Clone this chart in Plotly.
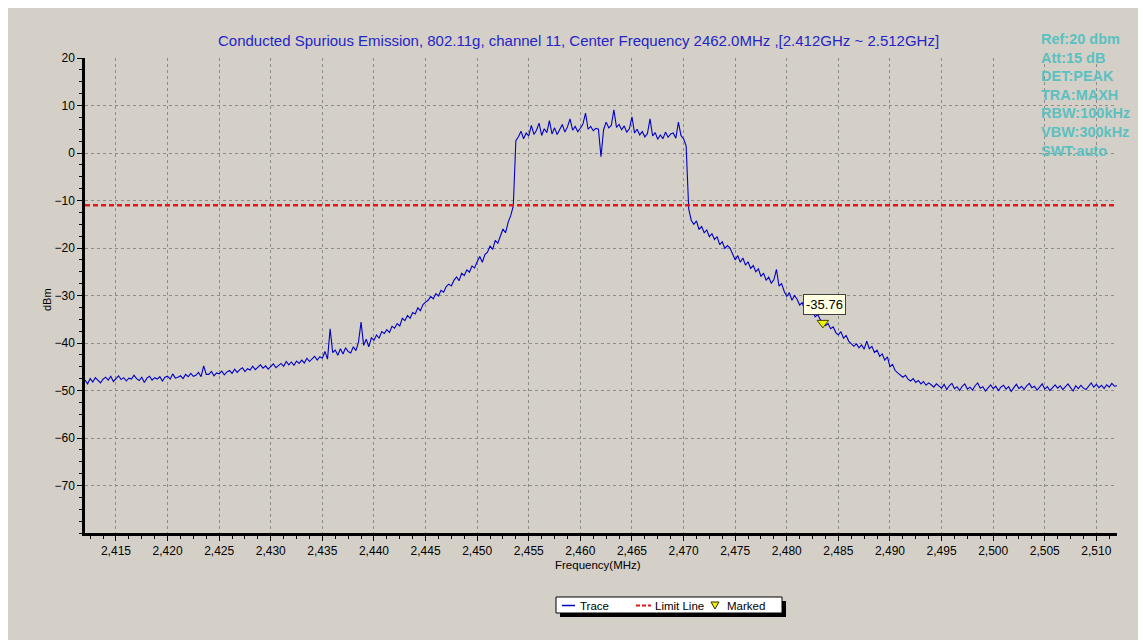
import plotly.graph_objects as go

# ---------------- data ----------------
f_start = 2412.0
f_step = 0.25
trace_dbm = [
    -47.8, -48.6, -47.5, -48.2,  # 2412
    -47.3, -47.9, -48.4, -47.6,  # 2413
    -47.2, -47.8, -47.0, -48.1,  # 2414
    -47.5, -46.9, -47.7, -47.3,  # 2415
    -48.0, -47.4, -47.6, -46.8,  # 2416
    -47.5, -47.9, -47.2, -48.3,  # 2417
    -47.4, -47.0, -47.8, -47.3,  # 2418
    -47.6, -47.1, -48.0, -47.2,  # 2419
    -47.0, -47.6, -46.5, -47.4,  # 2420
    -47.2, -46.9, -47.5, -46.6,  # 2421
    -47.1, -46.4, -47.0, -46.8,  # 2422
    -46.2, -47.1, -44.8, -46.6,  # 2423
    -46.6, -46.0, -46.9, -46.3,  # 2424
    -46.5, -45.9, -46.7, -46.1,  # 2425
    -45.8, -46.4, -45.5, -46.2,  # 2426
    -45.6, -45.2, -46.0, -45.4,  # 2427
    -45.7, -44.9, -45.6, -45.1,  # 2428
    -44.6, -45.3, -44.8, -45.5,  # 2429
    -45.0, -44.4, -45.2, -44.7,  # 2430
    -44.3, -44.9, -43.9, -44.6,  # 2431
    -44.0, -44.7, -43.8, -44.3,  # 2432
    -43.6, -44.2, -43.2, -43.9,  # 2433
    -43.4, -42.8, -43.6, -42.9,  # 2434
    -43.2, -41.8, -43.4, -37.0,  # 2435
    -42.0, -41.5, -42.6, -41.2,  # 2436
    -42.3, -41.0, -41.8, -42.1,  # 2437
    -40.8, -41.6, -39.8, -35.6,  # 2438
    -40.5, -39.2, -40.8, -38.9,  # 2439
    -39.4, -38.3, -39.0, -37.6,  # 2440
    -38.0, -37.2, -37.8, -36.5,  # 2441
    -36.9, -35.9, -36.4, -34.8,  # 2442
    -35.3, -34.2, -34.8, -33.6,  # 2443
    -33.9, -32.6, -33.2, -31.9,  # 2444
    -31.4, -31.0, -30.2, -30.7,  # 2445
    -29.6, -30.1, -28.9, -29.3,  # 2446
    -28.1, -27.6, -28.0, -26.8,  # 2447
    -26.1, -26.9, -25.3, -25.8,  # 2448
    -24.6, -25.1, -23.8, -24.2,  # 2449
    -22.9, -21.8, -23.0, -21.4,  # 2450
    -20.9, -19.6, -20.3, -18.4,  # 2451
    -19.0, -17.3, -16.0, -16.8,  # 2452
    -14.6, -13.2, -11.2, 2.6,    # 2453
    3.4, 4.6, 3.0, 4.2,          # 2454
    3.6, 5.8, 3.9, 4.8,          # 2455
    6.3, 3.7, 5.1, 4.3,          # 2456
    6.8, 4.0, 5.3, 3.9,          # 2457
    4.9, 6.0, 4.4, 5.5,          # 2458
    7.2, 4.8, 5.6, 4.5,          # 2459
    5.2, 6.1, 8.4, 5.0,          # 2460
    5.6, 4.7, 5.2, 5.0,          # 2461
    -0.8, 4.9, 6.5, 5.3,         # 2462
    5.8, 9.1, 5.4, 6.0,          # 2463
    4.9, 5.7, 4.4, 5.1,          # 2464
    7.6, 4.2, 5.0, 3.8,          # 2465
    4.5, 3.4, 4.1, 7.2,          # 2466
    3.6, 4.3, 2.9, 3.8,          # 2467
    3.0, 4.4, 3.3, 4.0,          # 2468
    4.2, 3.1, 6.5, 3.7,          # 2469
    3.0, 1.5, -11.8, -14.2,      # 2470
    -15.0, -14.3, -16.1, -15.5,  # 2471
    -16.8, -16.2, -17.6, -17.0,  # 2472
    -18.2, -17.6, -19.3, -18.7,  # 2473
    -20.1, -19.5, -20.0, -21.4,  # 2474
    -22.5, -21.6, -23.0, -22.1,  # 2475
    -23.6, -22.9, -24.3, -23.7,  # 2476
    -25.0, -24.4, -26.0, -25.3,  # 2477
    -26.8, -26.1, -27.4, -26.7,  # 2478
    -24.5, -28.0, -27.5, -29.1,  # 2479
    -30.2, -29.4, -31.0, -30.0,  # 2480
    -30.8, -32.0, -31.5, -33.2,  # 2481
    -32.6, -33.9, -33.2, -34.5,  # 2482
    -34.0, -35.1, -35.76, -36.3, # 2483
    -35.9, -37.0, -36.6, -37.8,  # 2484
    -38.3, -37.6, -39.0, -38.4,  # 2485
    -39.6, -40.1, -40.7, -40.2,  # 2486
    -41.0, -40.4, -41.3, -39.6,  # 2487
    -41.2, -40.7, -42.0, -41.5,  # 2488
    -42.8, -42.3, -43.6, -42.9,  # 2489
    -45.0, -44.5, -45.8, -46.3,  # 2490
    -46.7, -47.2, -46.8, -47.6,  # 2491
    -48.0, -47.5, -48.3, -47.9,  # 2492
    -48.6, -48.1, -48.9, -48.4,  # 2493
    -48.8, -49.3, -48.6, -49.1,  # 2494
    -49.5, -48.7, -49.8, -49.0,  # 2495
    -48.5, -49.6, -49.2, -50.0,  # 2496
    -49.1, -48.6, -49.7, -49.3,  # 2497
    -49.9, -49.0, -48.4, -49.5,  # 2498
    -49.2, -50.1, -49.4, -48.8,  # 2499
    -49.6, -49.1, -50.0, -49.3,  # 2500
    -48.9, -49.7, -49.2, -50.2,  # 2501
    -49.4, -48.7, -49.6, -49.1,  # 2502
    -49.8, -49.0, -48.5, -49.4,  # 2503
    -49.1, -49.9, -49.3, -48.6,  # 2504
    -49.7, -49.2, -50.0, -49.4,  # 2505
    -48.8, -49.5, -49.0, -49.8,  # 2506
    -49.3, -48.6, -49.4, -50.1,  # 2507
    -49.0, -49.6, -48.9, -49.5,  # 2508
    -49.8, -49.2, -48.4, -49.3,  # 2509
    -48.7, -49.4, -48.9, -49.6,  # 2510
    -48.8, -49.3, -48.5, -49.1,  # 2511
    -49.0,                       # 2512
]
freq_mhz = [f_start + f_step * i for i in range(len(trace_dbm))]

limit_dbm = -11.0
limit_x = [2412, 2512]
marker_freq = [2483.5]
marker_dbm = [-35.76]
marker_label = "-35.76"

x_tick_vals = [2415, 2420, 2425, 2430, 2435, 2440, 2445, 2450, 2455, 2460,
               2465, 2470, 2475, 2480, 2485, 2490, 2495, 2500, 2505, 2510]
x_tick_labels = ["2,415", "2,420", "2,425", "2,430", "2,435", "2,440", "2,445",
                 "2,450", "2,455", "2,460", "2,465", "2,470", "2,475", "2,480",
                 "2,485", "2,490", "2,495", "2,500", "2,505", "2,510"]
y_tick_vals = [20, 10, 0, -10, -20, -30, -40, -50, -60, -70]

title_text = ("Conducted Spurious Emission, 802.11g, channel 11, Center Frequency "
              "2462.0MHz ,[2.412GHz ~ 2.512GHz]")
info_lines = ["Ref:20 dbm", "Att:15 dB", "DET:PEAK", "TRA:MAXH",
              "RBW:100kHz", "VBW:300kHz", "SWT:auto"]
legend_names = ["Trace", "Limit Line", "Marked"]

# ---------------- layout geometry ----------------
OFF = 8                      # page body margin
W, H = 1146 - OFF, 644 - OFF
L, R, T, B = 85 - OFF, 1117 - OFF, 58 - OFF, 533 - OFF
PW, PH = R - L, B - T
FONT = "Arial, 'Liberation Sans', sans-serif"
TRACE_C = "#0000c8"
LIMIT_C = "#e01818"


def px(x):
    return (x - OFF - L) / PW


def py(y):
    return (B - (y - OFF)) / PH


fig = go.Figure()
fig.add_trace(go.Scatter(x=freq_mhz, y=trace_dbm, mode="lines",
                         line=dict(color=TRACE_C, width=1.1), name=legend_names[0],
                         showlegend=False))
fig.add_trace(go.Scatter(x=limit_x, y=[limit_dbm, limit_dbm], mode="lines",
                         line=dict(color=LIMIT_C, width=2.5, dash="5px,3px"),
                         name=legend_names[1], showlegend=False))
fig.add_trace(go.Scatter(x=marker_freq, y=marker_dbm, mode="markers",
                         marker=dict(symbol="triangle-down", size=10, color="#f2f200",
                                     line=dict(color="#404000", width=1)),
                         name=legend_names[2], showlegend=False))

shapes = []
# outer grey panel
shapes.append(dict(type="rect", xref="paper", yref="paper", layer="below",
                   x0=px(6), x1=px(1140), y0=py(640), y1=py(6),
                   fillcolor="#d4d0c8", line=dict(width=0)))

# legend box with shadow
lx0, lx1, ly0, ly1 = 556, 782, 597, 613
shapes.append(dict(type="rect", xref="paper", yref="paper",
                   x0=px(lx0 + 4), x1=px(lx1 + 4), y0=py(ly1 + 4), y1=py(ly0 + 4),
                   fillcolor="#000000", line=dict(width=0)))
shapes.append(dict(type="rect", xref="paper", yref="paper",
                   x0=px(lx0), x1=px(lx1), y0=py(ly1), y1=py(ly0),
                   fillcolor="#ffffff", line=dict(color="#000000", width=1)))
shapes.append(dict(type="line", xref="paper", yref="paper",
                   x0=px(562), x1=px(575), y0=py(605.5), y1=py(605.5),
                   line=dict(color=TRACE_C, width=1.5)))
shapes.append(dict(type="line", xref="paper", yref="paper",
                   x0=px(636), x1=px(651), y0=py(605.5), y1=py(605.5),
                   line=dict(color=LIMIT_C, width=2, dash="4px,2px")))
shapes.append(dict(type="path", xref="paper", yref="paper",
                   path=f"M {px(711)},{py(602)} L {px(719)},{py(602)} L {px(715)},{py(609)} Z",
                   fillcolor="#f2f200", line=dict(color="#303000", width=1)))
fig.update_layout(shapes=shapes)

ann = []
ann.append(dict(text=title_text, xref="paper", yref="paper", x=px(578), y=py(41),
                xanchor="center", yanchor="middle", showarrow=False,
                font=dict(family=FONT, size=15, color="#2424c8")))
for i, line in enumerate(info_lines):
    ann.append(dict(text=f"<b>{line}</b>", xref="paper", yref="paper",
                    x=px(1039), y=py(39 + 18.6 * i), xanchor="left", yanchor="middle",
                    showarrow=False, font=dict(family=FONT, size=14.5, color="#5cc0c0")))
ann.append(dict(text="dBm", xref="paper", yref="paper", x=px(47), y=py(300),
                textangle=-90, showarrow=False, xanchor="center", yanchor="middle",
                font=dict(family=FONT, size=11, color="#000000")))
ann.append(dict(text="Frequency(MHz)", xref="paper", yref="paper", x=px(598), y=py(565),
                showarrow=False, xanchor="center", yanchor="middle",
                font=dict(family=FONT, size=11.5, color="#000000")))
ann.append(dict(text=marker_label, xref="paper", yref="paper", x=px(824), y=py(304),
                showarrow=False, xanchor="center", yanchor="middle",
                bgcolor="#ffffe1", bordercolor="#404040", borderwidth=1, borderpad=2,
                font=dict(family=FONT, size=13, color="#000000")))
for name, x0 in zip(legend_names, [578, 653, 725]):
    ann.append(dict(text=name, xref="paper", yref="paper", x=px(x0), y=py(605.5),
                    showarrow=False, xanchor="left", yanchor="middle",
                    font=dict(family=FONT, size=11.5, color="#000000")))
fig.update_layout(annotations=ann)

grid = dict(showgrid=True, gridcolor="#8c8c8c", gridwidth=1, griddash="3px,3px",
            zeroline=False, showline=True, linecolor="#000000", linewidth=2.5,
            ticks="outside", ticklen=5, tickcolor="#000000", tickwidth=1,
            tickfont=dict(family=FONT, size=12, color="#000000"))
fig.update_xaxes(range=[2412, 2512], tickmode="array", tickvals=x_tick_vals,
                 ticktext=x_tick_labels,
                 minor=dict(tickmode="linear", tick0=2415, dtick=1.25, ticks="outside",
                            ticklen=3, tickcolor="#000000", showgrid=False),
                 **grid)
fig.update_yaxes(range=[-80, 20], tickmode="array", tickvals=y_tick_vals,
                 minor=dict(tickmode="linear", tick0=0, dtick=2.5, ticks="outside",
                            ticklen=3, tickcolor="#000000", showgrid=False),
                 **grid)

fig.update_layout(width=W, height=H, margin=dict(l=L, r=W - R, t=T, b=H - B),
                  paper_bgcolor="#ffffff", plot_bgcolor="#ffffff",
                  showlegend=False, hovermode=False)

fig.write_html("out.html")
